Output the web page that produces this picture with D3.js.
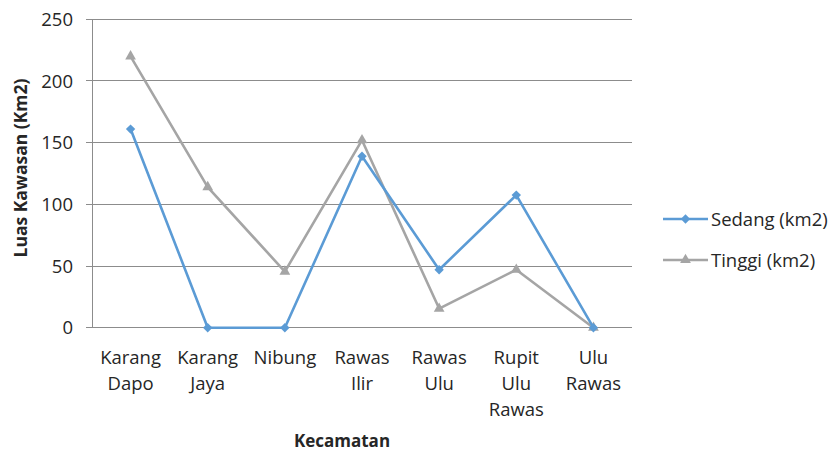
<!DOCTYPE html>
<html><head><meta charset="utf-8">
<script src="https://cdn.jsdelivr.net/npm/d3@7"></script>
<style>body{margin:0;background:#fff}svg{display:block}text{font-family:"Open Sans",sans-serif;fill:#262626}</style>
</head><body><svg id="c" width="831" height="452"></svg>
<script>
const categories = [["Karang","Dapo"],["Karang","Jaya"],["Nibung"],["Rawas","Ilir"],["Rawas","Ulu"],["Rupit","Ulu","Rawas"],["Ulu","Rawas"]];
const sedang = [161, 0, 0, 139, 47, 107.5, 0];
const tinggi = [220, 114, 45.5, 152, 15.5, 47, 0];
const yTicks = [0, 50, 100, 150, 200, 250];
const seriesNames = ["Sedang (km2)", "Tinggi (km2)"];
const colors = ["#5B9BD5", "#A5A5A5"];

const svg = d3.select("#c");
const L = 92, R = 632, T = 19.3, B = 327.7;
const keys = categories.map(c => c.join(" "));
const x = d3.scaleBand().domain(keys).range([L, R]);
const y = d3.scaleLinear().domain([0, 250]).range([B, T]);

svg.append("g").selectAll("line").data(yTicks).join("line")
  .attr("x1", L - 6).attr("x2", R).attr("y1", d => y(d)).attr("y2", d => y(d))
  .attr("stroke", "#8c8c8c").attr("stroke-width", 1).attr("shape-rendering","crispEdges");
svg.append("line").attr("x1", L).attr("x2", L).attr("y1", T).attr("y2", B)
  .attr("stroke", "#8c8c8c").attr("shape-rendering","crispEdges");
svg.append("g").selectAll("text").data(yTicks).join("text")
  .attr("x", 73).attr("y", d => y(d)).attr("dy", "0.36em").attr("text-anchor", "end")
  .attr("font-size", 18.5).text(d => d);
const xl = svg.append("g").selectAll("text").data(categories).join("text")
  .attr("text-anchor", "middle").attr("font-size", 18.5)
  .attr("transform", (d, i) => `translate(${x(keys[i]) + x.bandwidth()/2},364)`);
xl.selectAll("tspan").data(d => d).join("tspan").attr("x", 0).attr("y", (d, j) => j * 26).text(d => d);

svg.append("text").attr("x", 342).attr("y", 447).attr("text-anchor", "middle")
  .attr("font-size", 17).attr("font-weight", "bold").text("Kecamatan");
svg.append("text").attr("transform", "translate(27,168) rotate(-90)").attr("text-anchor", "middle")
  .attr("font-size", 17.5).attr("font-weight", "bold").text("Luas Kawasan (Km2)");

const cx = i => x(keys[i]) + x.bandwidth()/2;
const line = d3.line().x((d, i) => cx(i)).y(d => y(d));
const diamond = d3.symbol().type(d3.symbolSquare).size(44);
const tri = d3.symbol().type(d3.symbolTriangle).size(50);
const syms = [diamond, tri];
const rot = [45, 0];

[tinggi, sedang].forEach((s, k) => {
  const idx = k === 0 ? 1 : 0;
  svg.append("path").datum(s).attr("d", line).attr("fill", "none")
    .attr("stroke", colors[idx]).attr("stroke-width", 2.6).attr("stroke-linejoin","round");
  svg.append("g").selectAll("path").data(s).join("path")
    .attr("d", syms[idx]).attr("fill", colors[idx])
    .attr("transform", (d, i) => `translate(${cx(i)},${y(d)}) rotate(${rot[idx]})`);
});

const lg = svg.append("g");
[0, 1].forEach(k => {
  const yy = k === 0 ? 219 : 260;
  lg.append("line").attr("x1", 663).attr("x2", 708).attr("y1", yy).attr("y2", yy)
    .attr("stroke", colors[k]).attr("stroke-width", 2.6);
  lg.append("path").attr("d", syms[k]).attr("fill", colors[k]).attr("transform", `translate(685.5,${yy}) rotate(${rot[k]})`);
  lg.append("text").attr("x", 711).attr("y", yy).attr("dy", "0.36em").attr("font-size", 18.5).text(seriesNames[k]);
});
</script></body></html>
